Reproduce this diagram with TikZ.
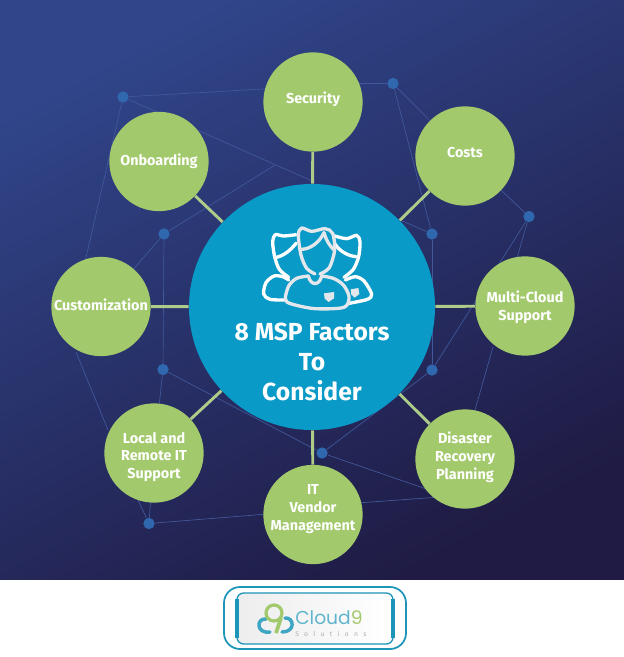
\documentclass[tikz,border=0pt]{standalone}
\usepackage{fontspec}
\setmainfont{Fira Sans}
\newfontfamily\logofont{Poppins}
\usepackage{tikz}
\usepackage{xcolor}
\usetikzlibrary{backgrounds}
\definecolor{leafgreen}{HTML}{A2C96C}
\definecolor{hubblue}{HTML}{099AC7}
\definecolor{dotblue}{HTML}{2F68AE}
\definecolor{webblue}{HTML}{41599B}
\definecolor{spokegreen}{HTML}{AFCB8A}
\definecolor{navytop}{HTML}{30458A}
\definecolor{navylow}{HTML}{1F1B44}
\definecolor{logoteal}{HTML}{1C95B8}
\definecolor{ghost}{HTML}{E3E6EA}

\begin{document}
\begin{tikzpicture}[
    x=0.75pt, y=-0.75pt,
    factor/.style={circle, fill=leafgreen, minimum size=74.5pt, inner sep=0pt},
    factxt/.style={text=white, font=\fontsize{10.8}{13.4}\selectfont\bfseries, align=center},
    webdot/.style={circle, fill=dotblue, minimum size=8.5pt, inner sep=0pt},
    web/.style={draw=webblue, line width=0.5pt},
    spoke/.style={draw=spokegreen, line width=2.2pt},
    faceline/.style={draw=white, line width=2.5pt, line join=round, line cap=round},
    midline/.style={draw=ghost, line width=2.5pt, line join=round, line cap=round}
]
\useasboundingbox (0,0) rectangle (624,657);
% hub and the eight factors
\node[circle, fill=hubblue, minimum size=184.5pt, inner sep=0pt] (hub) at (312,307) {};
\node[text=white, font=\fontsize{18.5}{22.2}\selectfont\bfseries, align=center] (title) at (312,362) {8 MSP Factors\\To\\Consider};
\node[factor, label={[factxt, yshift=2pt]center:Security}] (security) at (313,102) {};
\node[factor, label={[factxt, yshift=2.8pt]center:Costs}] (costs) at (465,156) {};
\node[factor, label={[factxt, yshift=-1pt]center:Multi-Cloud\\Support}] (multi) at (525,306) {};
\node[factor, label={[factxt, yshift=1.2pt]center:Disaster\\Recovery\\Planning}] (disaster) at (465,459) {};
\node[factor, label={[factxt, yshift=4.3pt]center:IT\\Vendor\\Management}] (vendor) at (313,514.5) {};
\node[factor, label={[factxt, yshift=-3pt]center:Local and\\Remote IT\\Support}] (local) at (154,453) {};
\node[factor, label={[factxt, yshift=1pt]center:Customization}] (custom) at (101,306.5) {};
\node[factor, label={[factxt, yshift=0pt]center:Onboarding}] (onboard) at (159,161.5) {};
% small dots
\node[webdot] (dotA) at (123,97) {};
\node[webdot] (dotB) at (393,83.5) {};
\node[webdot] (dotC) at (529,216.5) {};
\node[webdot] (dotD) at (432,234) {};
\node[webdot] (dotE) at (164,234) {};
\node[webdot] (dotF) at (163,369.5) {};
\node[webdot] (dotG) at (432,370) {};
\node[webdot] (dotH) at (322,453) {};
\node[webdot] (dotI) at (149,523.5) {};
% free ends of the web, hidden under the circles
\coordinate (knee) at (275,165);
\coordinate (kneeB) at (312,181);
\coordinate (secW) at (280,88);
\coordinate (secE) at (350,83.5);
\coordinate (custN) at (85,262);
\coordinate (custS) at (76,352);
\coordinate (localW) at (108,430);
\coordinate (localN) at (138,500);
\coordinate (localS) at (151,495);
\coordinate (vendW) at (280,513);
\coordinate (vendE) at (350,503.5);
\coordinate (disW) at (440,497);
\coordinate (disN) at (475,410);
\coordinate (disSW) at (435,492);
\coordinate (multiN) at (515,265);
\coordinate (multiS) at (493,347);
\coordinate (hubE) at (398,219);
\begin{scope}[on background layer]
\fill[white] (0,0) rectangle (624,657);
\shade[top color=navytop, bottom color=navylow, shading angle=28] (0,0) rectangle (624,579);
% thin web behind the circles
\draw[web] (dotA) -- (secW);
\draw[web] (dotA) -- (kneeB);
\draw[web] (dotA) -- (custN);
\draw[web] (dotE) -- (knee);
\draw[web] (dotE) -- (custom);
\draw[web] (dotE) -- (dotF);
\draw[web] (dotF) -- (local);
\draw[web] (dotF) -- (dotH);
\draw[web] (custS) -- (localW);
\draw[web] (dotI) -- (localN);
\draw[web] (dotI) -- (localS);
\draw[web] (dotI) -- (vendW);
\draw[web] (dotH) -- (dotG);
\draw[web] (dotH) -- (disSW);
\draw[web] (vendE) -- (disW);
\draw[web] (dotG) -- (dotD);
\draw[web] (dotD) -- (hubE);
\draw[web] (dotB) -- (secE);
\draw[web] (dotB) -- (costs);
\draw[web] (dotB) -- (dotD);
\draw[web] (dotC) -- (costs);
\draw[web] (dotC) -- (multiN);
\draw[web] (dotC) -- (dotG);
\draw[web] (multiS) -- (disN);
% spokes
\foreach \leaf in {security,costs,multi,disaster,vendor,local,custom,onboard}
  \draw[spoke] (hub) -- (\leaf);
\end{scope}
% people icon
\begin{scope}[shift={(200,200)}, x=0.25pt, y=-0.25pt]
\draw[faceline] plot[smooth] coordinates {(266,232) (238,208) (224,170) (218,125) (226,104) (250,108) (288,104)};
\draw[faceline] (230,172) .. controls (255,165) and (272,150) .. (288,130);
\draw[faceline] plot[smooth] coordinates {(405,108) (440,116) (470,106) (480,125) (476,170) (460,208) (432,232)};
\draw[faceline] (405,132) .. controls (420,155) and (445,168) .. (468,170);
\draw[faceline] plot[smooth] coordinates {(258,300) (210,298) (191,282) (198,248) (222,228) (248,230) (266,240)};
\draw[faceline] plot[smooth] coordinates {(436,240) (466,230) (492,243) (515,282) (502,298) (447,310)};
\fill[ghost] (452,268) -- (475,264) -- (478,282) -- (464,293) -- (454,284) -- cycle;
\draw[midline] plot[smooth] coordinates {(345,222) (320,205) (303,165) (295,105) (305,84) (335,94) (375,86) (398,100) (404,150) (388,203) (360,222)};
\draw[midline] (303,148) .. controls (330,148) and (358,128) .. (372,98);
\draw[midline] (372,98) .. controls (378,120) and (390,140) .. (403,150);
\draw[midline] plot[smooth] coordinates {(325,228) (290,235) (266,258) (256,298) (275,312) (345,326) (432,322) (447,290) (430,255) (400,235) (365,228)};
\draw[midline] (325,228) .. controls (332,258) and (358,258) .. (365,228);
\fill[ghost] (372,280) -- (402,276) -- (402,295) -- (386,306) -- (374,296) -- cycle;
\end{scope}
% logo
\draw[logoteal, line width=1.3pt, rounded corners=12pt] (224,587) rectangle (406,649);
\shade[left color=gray!14, right color=white, rounded corners=5pt] (237,593) rectangle (393,644);
\draw[logoteal, line width=1pt, rounded corners=5pt] (237,593) rectangle (393,644);
\draw[logoteal, line width=2.4pt] (237,599) -- (237,638) (393,599) -- (393,638);
\draw[logoteal!85, line width=2.6pt, line cap=round] (270,632) .. controls (256,634) and (256,618) .. (266,619)
   (282,632) .. controls (296,632) and (294,617) .. (285,618);
\draw[leafgreen, line width=2.4pt] (274,613) circle (8);
\draw[leafgreen, line width=2.8pt] (281,618) -- (276,633);
\node[font=\logofont\fontsize{14}{15}\selectfont, text=logoteal!70, inner sep=0pt, anchor=base west] (logoname) at (295,624.5) {Cloud\textcolor{leafgreen}{9}};
\node[font=\fontsize{5}{6}\selectfont\addfontfeature{LetterSpace=80}, text=gray!65, inner sep=0pt, anchor=base west] (logosub) at (295,636.5) {Solutions};
\end{tikzpicture}
\end{document}
